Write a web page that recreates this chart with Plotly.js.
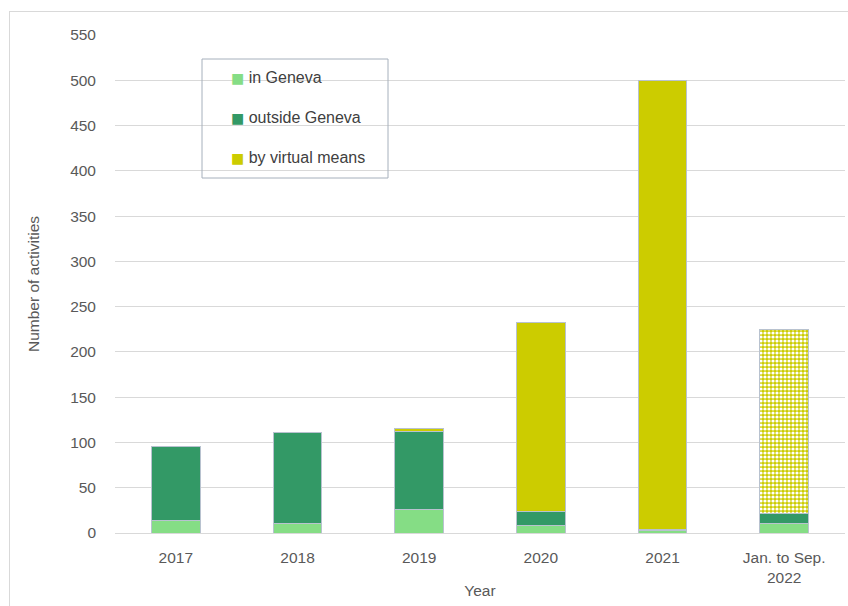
<!DOCTYPE html>
<html>
<head>
<meta charset="utf-8">
<script src="https://cdn.plot.ly/plotly-3.0.1.min.js"></script>
<style>
html,body{margin:0;padding:0;background:#fff;}
#wrap{position:relative;width:848px;height:606px;}
#chart{width:848px;height:606px;}
#frame{position:absolute;left:9px;top:11px;width:845px;height:600px;border:1px solid #d9d9d9;pointer-events:none;}
</style>
</head>
<body>
<div id="wrap"><div id="chart"></div><div id="frame"></div></div>
<script>
const categories = ['2017', '2018', '2019', '2020', '2021', 'Jan. to Sep.<br>2022'];
const inGeneva = [14, 11, 26, 8, 3, 10];
const outsideGeneva = [81, 100, 86, 16, 1, 12];
const virtualMeans = [0, 0, 3, 208, 496, 203];
const seriesNames = ['in Geneva', 'outside Geneva', 'by virtual means'];
const seriesColors = ['#85dd85', '#339966', '#cccc00'];
const yTicks = [0, 50, 100, 150, 200, 250, 300, 350, 400, 450, 500, 550];

const FAMILY = 'Liberation Sans, Arial, sans-serif';
const outline = {color: '#b8c2cf', width: 1};
const values = [inGeneva, outsideGeneva, virtualMeans];

const traces = values.map((v, i) => ({
  type: 'bar', name: seriesNames[i], x: categories, y: v, showlegend: false,
  marker: Object.assign({color: seriesColors[i], line: outline},
    i === 2 ? {pattern: {shape: ['', '', '', '', '', '.'], fgcolor: '#ffffff', bgcolor: seriesColors[i], size: 4, solidity: 0.5}} : {})
}));
// legend entries: coloured square glyph + label
seriesNames.forEach((n, i) => traces.push({
  type: 'scatter', mode: 'markers', x: [categories[0]], y: [null],
  name: '<span style="color:' + seriesColors[i] + ';font-family:DejaVu Sans;font-size:14px">■</span> ' + n,
  marker: {color: 'rgba(0,0,0,0)', size: 0, line: {width: 0}}, legendgroup: 'g' + i, showlegend: true, hoverinfo: 'skip'
}));

const font = {family: FAMILY, size: 15.5, color: '#595959'};
const layout = {
  width: 848, height: 606,
  margin: {l: 115, r: 3, t: 35, b: 73},
  paper_bgcolor: '#ffffff', plot_bgcolor: '#ffffff',
  font: font,
  barmode: 'stack',
  bargap: 0.6,
  showlegend: true,
  legend: {
    x: (191 - 115) / 730, y: (533 - 60) / 498, xanchor: 'left', yanchor: 'top',
    borderwidth: 0, bgcolor: 'rgba(0,0,0,0)',
    traceorder: 'grouped', tracegroupgap: 16,
    font: {family: FAMILY, size: 16, color: '#404040'},
    itemwidth: 30
  },
  shapes: [{
    type: 'rect', xref: 'paper', yref: 'paper', layer: 'above',
    x0: (202 - 115) / 730, x1: (388 - 115) / 730,
    y0: (533 - 178) / 498, y1: (533 - 59) / 498,
    line: {color: '#a6b0bc', width: 1}, fillcolor: 'rgba(0,0,0,0)'
  }],
  xaxis: {
    type: 'category', tickfont: font, showgrid: false,
    showline: true, linecolor: '#d9d9d9', linewidth: 1, ticks: '',
    ticklabelstandoff: 10,
    title: {text: 'Year', font: font, standoff: 0}
  },
  yaxis: {
    range: [0, 550], tickvals: yTicks, ticktext: yTicks.map(String),
    showgrid: true, gridcolor: '#d9d9d9', gridwidth: 1, zeroline: false,
    showline: false, ticks: '', ticklabelstandoff: 18,
    tickfont: font,
    title: {text: 'Number of activities', font: font, standoff: 26}
  }
};
Plotly.newPlot('chart', traces, layout, {displayModeBar: false, staticPlot: true});
</script>
</body>
</html>
